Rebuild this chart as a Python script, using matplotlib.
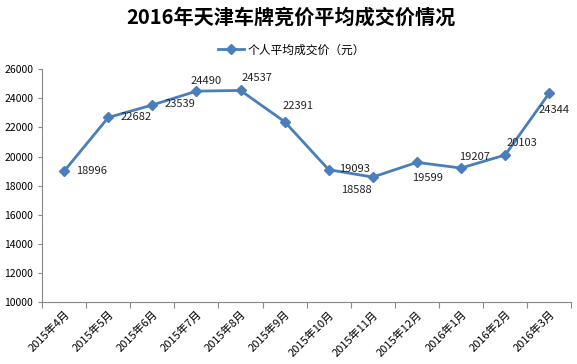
import matplotlib
matplotlib.use("Agg")
import matplotlib.pyplot as plt
import numpy as np

plt.rcParams['font.family'] = ['Noto Sans CJK SC', 'DejaVu Sans']

months = ['2015年4月', '2015年5月', '2015年6月', '2015年7月', '2015年8月', '2015年9月',
          '2015年10月', '2015年11月', '2015年12月', '2016年1月', '2016年2月', '2016年3月']
prices = [18996, 22682, 23539, 24490, 24537, 22391, 19093, 18588, 19599, 19207, 20103, 24344]
# label offsets in pixels (dx, dy)
offsets = [(12, 0), (12, 0), (12, 1), (-6, 10), (1, 12), (-2, 16),
           (10, 1), (-32, -13), (-5, -16), (-2, 11), (1, 12), (-11, -17)]

fig = plt.figure(figsize=(5.77, 3.64), dpi=100)
ax = fig.add_axes([0.073, 0.170, 0.917, 0.640])

x = np.arange(len(months))
color = '#4a7ebb'
ax.plot(x, prices, color=color, lw=2, marker='D', ms=5, label='个人平均成交价（元）')

for xi, v, (dx, dy) in zip(x, prices, offsets):
    ax.annotate(str(v), (xi, v), xytext=(dx, dy), textcoords='offset pixels',
                fontsize=8, color='#222222', va='center', ha='left')

ax.set_xlim(-0.5, len(months) - 0.5)
ax.set_ylim(10000, 26000)
ax.set_yticks(range(10000, 26001, 2000))
ax.tick_params(axis='y', labelsize=7.5, length=3, color='#888888')

ax.set_xticks(np.arange(-0.5, len(months), 1), minor=False)
ax.set_xticklabels([])
ax.set_xticks(x, minor=True)
ax.set_xticklabels(months, minor=True, rotation=45, ha='right', va='top',
                   fontsize=8, rotation_mode='anchor')
ax.tick_params(axis='x', which='major', length=4, color='#888888')
ax.tick_params(axis='x', which='minor', length=0, pad=5)

for s in ['top', 'right']:
    ax.spines[s].set_visible(False)
for s in ['left', 'bottom']:
    ax.spines[s].set_color('#888888')

fig.text(0.505, 0.953, '2016年天津车牌竞价平均成交价情况', ha='center', va='center',
         fontsize=14.5, fontweight='bold')
fig.legend(loc='center', bbox_to_anchor=(0.505, 0.863), frameon=False, fontsize=8.5,
           handlelength=2.2, handletextpad=0.3)

fig.savefig('out.png', dpi=100)
